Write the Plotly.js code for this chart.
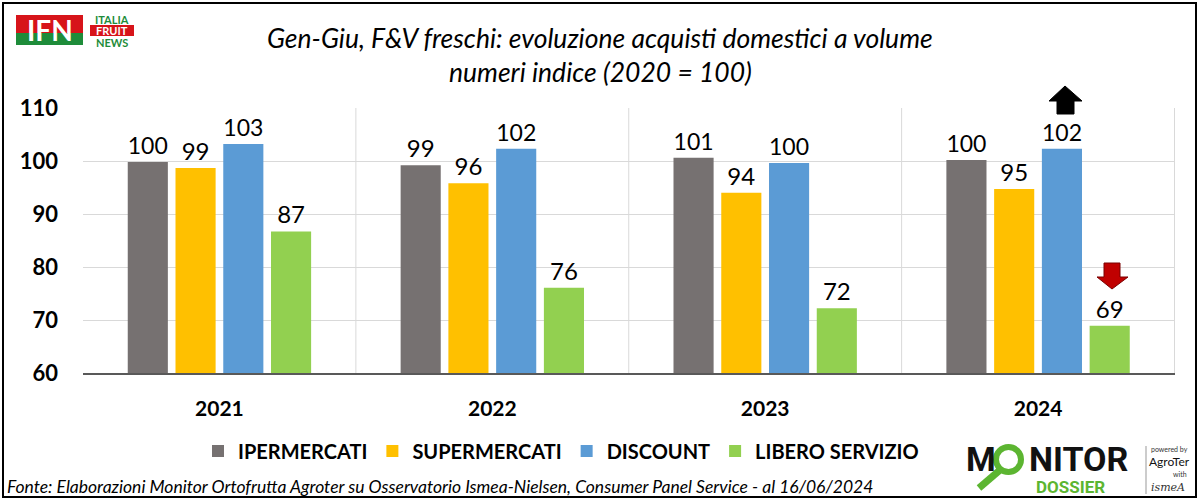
<!DOCTYPE html>
<html><head><meta charset="utf-8">
<script src="https://cdn.plot.ly/plotly-3.0.1.min.js"></script>
<style>html,body{margin:0;padding:0;background:#fff;}#chart{width:1200px;height:502px;}</style>
</head><body><div id="chart"></div>
<script>
var categories = ['2021', '2022', '2023', '2024'];
var seriesNames = ['IPERMERCATI', 'SUPERMERCATI', 'DISCOUNT', 'LIBERO SERVIZIO'];
var ipermercati = [99.8, 99.2, 100.6, 100.2];
var supermercati = [98.7, 95.8, 94.0, 94.7];
var discount = [103.2, 102.3, 99.6, 102.3];
var liberoServizio = [86.7, 76.1, 72.2, 68.9];
var yTicks = [60, 70, 80, 90, 100, 110];

var colors = ['#767171', '#FFC000', '#5B9BD5', '#92D050'];
var values = [ipermercati, supermercati, discount, liberoServizio];

var L = 83, R = 1175, T = 108, B = 373;
function px(x) { return (x - L) / (R - L); }
function py(y) { return (B - y) / (B - T); }

var traces = values.map(function (v, i) {
  return {
    type: 'bar', name: seriesNames[i], x: categories, y: v,
    marker: { color: colors[i] },
    texttemplate: '%{y:.0f}', textposition: 'outside', cliponaxis: false,
    textfont: { family: 'Lato', size: 24, color: '#000' },
    hoverinfo: 'skip'
  };
});

function path(pts) {
  return 'M' + pts.map(function (p) { return px(p[0]) + ',' + py(p[1]); }).join(' L') + ' Z';
}
function P(o) { return Object.assign({ xref: 'paper', yref: 'paper' }, o); }

var shapes = [];
[0.5, 1.5, 2.5, 3.5].forEach(function (xv) {
  shapes.push({ type: 'line', xref: 'x', yref: 'paper', x0: xv, x1: xv, y0: 0, y1: 1,
    line: { color: '#d9d9d9', width: 1 }, layer: 'below' });
});
// outer frame
shapes.push(P({ type: 'rect', x0: px(3), x1: px(1196), y0: py(3), y1: py(497), line: { color: '#000', width: 2 } }));
// up arrow (black)
shapes.push(P({ type: 'path',
  path: path([[1065, 86], [1082, 101], [1074, 101], [1074, 114], [1057, 114], [1057, 101], [1049, 101]]),
  fillcolor: '#000', line: { color: '#000', width: 1 } }));
// down arrow (red)
shapes.push(P({ type: 'path',
  path: path([[1104, 263], [1120, 263], [1120, 277], [1128, 277], [1112, 289], [1097, 277], [1104, 277]]),
  fillcolor: '#C00000', line: { color: '#7a0000', width: 1 } }));
// IFN logo
shapes.push(P({ type: 'rect', x0: px(16), x1: px(83), y0: py(15), y1: py(33), fillcolor: '#D7141A', line: { width: 0 } }));
shapes.push(P({ type: 'rect', x0: px(16), x1: px(83), y0: py(33), y1: py(45), fillcolor: '#1E8C3A', line: { width: 0 } }));
shapes.push(P({ type: 'rect', x0: px(90), x1: px(134), y0: py(25), y1: py(36), fillcolor: '#D7141A', line: { width: 0 } }));
// Monitor logo divider
shapes.push(P({ type: 'line', x0: px(1146), x1: px(1146), y0: py(446), y1: py(494), line: { color: '#999', width: 1 } }));
// magnifier ring + handle
shapes.push(P({ type: 'line', x0: px(1000), x1: px(979), y0: py(470), y1: py(488), line: { color: '#5CB531', width: 7 } }));
shapes.push(P({ type: 'circle', x0: px(996), x1: px(1021), y0: py(447), y1: py(472), line: { color: '#5CB531', width: 6 }, fillcolor: 'rgba(0,0,0,0)' }));

var annotations = [
  { text: '<i>Gen-Giu, F&V freschi: evoluzione acquisti domestici a volume</i>', x: px(600), y: py(38),
    font: { family: 'Lato', size: 26.5, color: '#000' } },
  { text: '<i>numeri indice (2020 = 100)</i>', x: px(600), y: py(72),
    font: { family: 'Lato', size: 26.5, color: '#000' } },
  { text: '<i>Fonte: Elaborazioni Monitor Ortofrutta Agroter su Osservatorio Ismea-Nielsen, Consumer Panel Service - al 16/06/2024</i>',
    x: px(5), y: py(486), xanchor: 'left', font: { family: 'Lato', size: 17.5, color: '#000' } },
  { text: '<b>IFN</b>', x: px(49.5), y: py(30), font: { family: 'Lato', size: 28, color: '#fff' } },
  { text: '<b>ITALIA</b>', x: px(112), y: py(19), font: { family: 'Lato', size: 11, color: '#1E8C3A' } },
  { text: '<b>FRUIT</b>', x: px(112), y: py(30.5), font: { family: 'Lato', size: 11, color: '#fff' } },
  { text: '<b>NEWS</b>', x: px(112), y: py(42), font: { family: 'Lato', size: 11, color: '#1E8C3A' } },
  { text: '<b>M</b>', x: px(981), y: py(459), font: { family: 'Roboto', size: 34, color: '#111', weight: 900 } },
  { text: '<b>NITOR</b>', x: px(1078), y: py(459), font: { family: 'Roboto', size: 34, color: '#111', weight: 900 } },
  { text: '<b>DOSSIER</b>', x: px(1070), y: py(487), font: { family: 'Roboto', size: 17, color: '#5CB531', weight: 900 } },
  { text: 'powered by', x: px(1169), y: py(449), font: { family: 'Lato', size: 7, color: '#333' } },
  { text: 'AgroTer', x: px(1169), y: py(461), font: { family: 'Lato', size: 12, color: '#111' } },
  { text: 'with', x: px(1180), y: py(474), font: { family: 'Lato', size: 7, color: '#333' } },
  { text: '<i>ismeA</i>', x: px(1168), y: py(487), font: { family: 'DejaVu Serif', size: 11, color: '#333' } }
].map(function (a) {
  return Object.assign({ xref: 'paper', yref: 'paper', showarrow: false, xanchor: 'center', yanchor: 'middle' }, a);
});

var layout = {
  width: 1200, height: 502,
  margin: { l: L, r: 1200 - R, t: T, b: 502 - B, pad: 0 },
  paper_bgcolor: '#fff', plot_bgcolor: '#fff',
  barmode: 'group', bargap: 0.30, bargroupgap: 0.16,
  showlegend: true,
  legend: { orientation: 'h', x: px(561), xanchor: 'center', y: py(451), yanchor: 'middle',
    font: { family: 'Lato', size: 20, color: '#000', weight: 'bold' }, itemwidth: 30, traceorder: 'normal' },
  xaxis: { type: 'category', showgrid: false, showline: true, linecolor: '#595959', linewidth: 1.5,
    tickfont: { family: 'Lato', size: 21, color: '#000', weight: 'bold' }, ticks: '', ticklabelstandoff: 16,
    fixedrange: true },
  yaxis: { range: [60, 110], tickvals: yTicks, showgrid: true, gridcolor: '#d9d9d9', gridwidth: 1,
    zeroline: false, showline: false, ticks: '', ticklabelstandoff: 24,
    tickfont: { family: 'Lato', size: 22, color: '#000', weight: 'bold' }, fixedrange: true },
  shapes: shapes, annotations: annotations
};

Plotly.newPlot('chart', traces, layout, { displayModeBar: false, staticPlot: true });
</script></body></html>
